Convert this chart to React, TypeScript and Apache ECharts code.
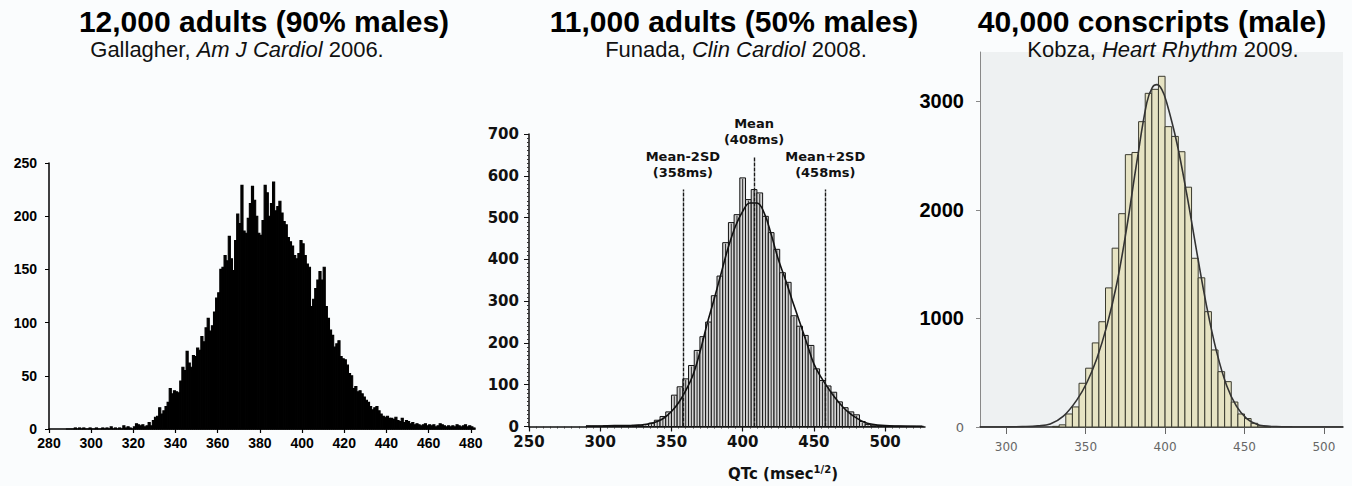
import React, { useEffect, useRef } from 'react';
import * as echarts from 'echarts';

// ---------- Panel 1: Gallagher (1 ms bins) ----------
const P1_START = 288;
const P1_COUNTS = [
  0, 0, 0, 0, 1, 0, 1, 0, 1, 0, 0, 1,
  0, 0, 1, 0, 0, 1, 0, 1, 0, 2,
  0, 1, 0, 1, 0, 3, 1, 2, 1, 0,
  2, 5, 4, 3, 4, 2, 3, 6, 3, 8,
  11, 12, 20, 14, 17, 21, 25, 38, 33, 36,
  35, 34, 45, 58, 55, 73, 62, 58, 69, 68,
  76, 74, 87, 82, 95, 104, 92, 97, 110, 123,
  128, 150, 152, 163, 158, 181, 160, 149, 177, 202,
  193, 229, 186, 184, 198, 212, 228, 215, 200, 184,
  182, 196, 229, 222, 200, 212, 232, 205, 209, 214,
  203, 195, 192, 180, 176, 172, 163, 160, 165, 177,
  174, 163, 155, 152, 115, 122, 132, 140, 148, 140,
  152, 115, 104, 93, 88, 77, 80, 83, 68, 66,
  65, 60, 52, 50, 38, 40, 35, 36, 33, 30,
  27, 25, 21, 18, 20, 21, 17, 14, 12, 11,
  12, 10, 10, 9, 11, 8, 7, 10, 6, 8,
  7, 5, 6, 4, 5, 4, 3, 4, 5, 3,
  4, 3, 4, 2, 3, 5, 4, 3, 2, 3,
  2, 3, 2, 4, 3, 2, 3, 4, 2, 3,
  2, 1,
];
const P1_XTICKS = [280, 300, 320, 340, 360, 380, 400, 420, 440, 460, 480];
const P1_YTICKS = [0, 50, 100, 150, 200, 250];

// ---------- Panel 2: Funada (4 ms bins) ----------
const P2_BIN_W = 4;
const P2_BIN_STARTS = [
  290, 294, 298, 302, 306, 310, 314, 318, 322, 326, 330, 334, 338, 342, 346,
  350, 354, 358, 362, 366, 370, 374, 378, 382, 386, 390, 394, 398, 402, 406,
  410, 414, 418, 422, 426, 430, 434, 438, 442, 446, 450, 454, 458, 462, 466,
  470, 474, 478, 482, 486, 490, 494, 498, 502, 506, 510, 514, 518, 522,
];
const P2_COUNTS = [
  1, 1, 1, 2, 1, 2, 2, 2, 3, 3, 5, 8, 15, 24, 35,
  75, 95, 114, 146, 182, 215, 250, 313, 360, 440, 488, 507, 595, 543, 567,
  559, 503, 464, 424, 368, 345, 265, 240, 218, 194, 138, 110, 97, 82, 59,
  45, 35, 28, 12, 5, 3, 2, 2, 1, 1, 1, 1, 1, 1,
];
const P2_CURVE_X = [290, 300, 310, 320, 325, 330, 335, 340, 345, 350, 355, 360, 365, 370, 375, 380, 385, 390, 395, 400, 405, 410, 415, 420, 425, 430, 435, 440, 445, 450, 455, 460, 465, 470, 475, 480, 485, 490, 500, 510, 527];
const P2_CURVE_Y = [1, 1, 2, 2, 3, 4, 7, 12, 21, 36, 57, 86, 122, 178, 245, 305, 368, 430, 480, 515, 535, 535, 512, 460, 400, 352, 300, 250, 200, 150, 118, 92, 68, 48, 32, 20, 11, 6, 2, 1, 0];
const P2_MARK_X = [358, 408, 458];
const P2_MARK_TOP = [567, 646, 567];
const P2_MARK_LABELS = ['Mean-2SD\n(358ms)', 'Mean\n(408ms)', 'Mean+2SD\n(458ms)'];
const P2_XTICKS = [250, 300, 350, 400, 450, 500];
const P2_YTICKS = [0, 100, 200, 300, 400, 500, 600, 700];

// ---------- Panel 3: Kobza ----------
const P3_BIN_W = 4.1667;
const P3_BIN_STARTS = [
  329.17, 333.33, 337.5, 341.67, 345.83, 350, 354.17, 358.33, 362.5, 366.67, 370.83,
  375, 379.17, 383.33, 387.5, 391.67, 395.83, 400, 404.17, 408.33, 412.5, 416.67,
  420.83, 425, 429.17, 433.33, 437.5, 441.67, 445.83, 450, 454.17, 458.33, 462.5,
];
const P3_COUNTS = [
  6, 20, 120, 185, 403, 542, 775, 970, 1282, 1648, 1966,
  2510, 2530, 2814, 3075, 3112, 3232, 2768, 2678, 2537, 2210, 1555,
  1375, 1063, 710, 510, 418, 230, 120, 78, 34, 10, 3,
];
const P3_CURVE_X = [283.5, 300, 310, 320, 327.7, 336, 344.5, 350.8, 357, 363.3, 369.6, 375.9, 382.2, 388.5, 392, 394.8, 398, 401, 407.4, 413.6, 420, 426.2, 432.5, 438.8, 445, 451.4, 457.7, 462, 470, 480, 512];
const P3_CURVE_Y = [0, 1, 3, 10, 28, 100, 250, 410, 630, 930, 1320, 1840, 2440, 2990, 3130, 3155, 3110, 2990, 2620, 2150, 1610, 1110, 690, 380, 190, 78, 25, 10, 3, 1, 0];
const P3_XTICKS = [300, 350, 400, 450, 500];
const P3_YTICKS = [0, 1000, 2000, 3000];

const ARIAL = 'Liberation Sans, Arial, Helvetica, sans-serif';
const DEJA = 'DejaVu Sans, sans-serif';

function rectRender(style: any, hatch?: any) {
  return (params: any, api: any) => {
    const x0 = api.value(0);
    const x1 = api.value(1);
    const v = api.value(2);
    const p0 = api.coord([x0, v]);
    const p1 = api.coord([x1, 0]);
    const rect = {
      type: 'rect',
      shape: { x: p0[0], y: p0[1], width: p1[0] - p0[0], height: p1[1] - p0[1] },
      style,
    };
    if (!hatch) return rect;
    const mx = (p0[0] + p1[0]) / 2;
    return {
      type: 'group',
      children: [
        rect,
        { type: 'line', shape: { x1: mx, y1: p0[1] + 1, x2: mx, y2: p1[1] }, style: hatch },
      ],
    };
  };
}

export default function App() {
  const ref = useRef<HTMLDivElement>(null);
  useEffect(() => {
    if (!ref.current) return;
    const chart = echarts.init(ref.current, undefined, { renderer: 'svg' });

    const p1Data = P1_COUNTS.map((c, i) => [P1_START + i, P1_START + i + 1, c]);
    const p2Data = P2_BIN_STARTS.map((s, i) => [s, s + P2_BIN_W, P2_COUNTS[i]]);
    const p3Data = P3_BIN_STARTS.map((s, i) => [s, s + P3_BIN_W, P3_COUNTS[i]]);
    const p2Curve = P2_CURVE_X.map((x, i) => [x, P2_CURVE_Y[i]]);
    const p3Curve = P3_CURVE_X.map((x, i) => [x, P3_CURVE_Y[i]]);

    const p1Label = { color: '#000', fontWeight: 'bold', fontSize: 14, fontFamily: ARIAL };
    const p2Label = { color: '#111', fontWeight: 'bold', fontSize: 15, fontFamily: DEJA };

    const option: any = {
      animation: false,
      backgroundColor: 'transparent',
      grid: [
        { left: 49, top: 163, width: 426, height: 266 },
        { left: 529, top: 134, width: 396, height: 294 },
        { left: 980, top: 52, width: 363, height: 375, show: true, backgroundColor: '#eef1f2', borderWidth: 0 },
      ],
      xAxis: [
        {
          gridIndex: 0, type: 'value', min: 280, max: 482, interval: 20,
          axisLine: { onZero: false, lineStyle: { color: '#000', width: 1.5 } },
          axisTick: { length: 4, lineStyle: { color: '#000', width: 1.2 }, customValues: P1_XTICKS },
          axisLabel: { ...p1Label, margin: 7, customValues: P1_XTICKS },
          splitLine: { show: false },
        },
        {
          gridIndex: 1, type: 'value', min: 250, max: 528, interval: 50,
          axisLine: { onZero: false, lineStyle: { color: '#111', width: 1.5 } },
          axisTick: { length: 5, lineStyle: { color: '#111', width: 1.2 }, customValues: P2_XTICKS },
          minorTick: { show: true, splitNumber: 10, length: 2, lineStyle: { color: '#333' } },
          axisLabel: { ...p2Label, margin: 8, customValues: P2_XTICKS },
          splitLine: { show: false },
          name: '{a|QTc (msec}{s|1/2}{a|)}',
          nameLocation: 'middle',
          nameGap: 38,
          nameTextStyle: {
            padding: [0, 0, 0, 112],
            rich: {
              a: { fontFamily: DEJA, fontWeight: 'bold', fontSize: 15, color: '#111' },
              s: { fontFamily: DEJA, fontWeight: 'bold', fontSize: 10, color: '#111', padding: [0, 0, 8, 0] },
            },
          },
        },
        {
          gridIndex: 2, type: 'value', min: 283.5, max: 512,
          axisLine: { onZero: false, lineStyle: { color: '#222', width: 1.5 } },
          axisTick: { length: 7, lineStyle: { color: '#666' }, customValues: P3_XTICKS },
          axisLabel: { color: '#666', fontSize: 12, fontFamily: DEJA, margin: 14, customValues: P3_XTICKS,
            formatter: (v: number) => (v % 50 === 0 ? String(v) : '') },
          splitLine: { show: false },
        },
      ],
      yAxis: [
        {
          gridIndex: 0, type: 'value', min: 0, max: 250, interval: 50,
          axisLine: { show: true, lineStyle: { color: '#000', width: 1.5 } },
          axisTick: { show: true, length: 4, lineStyle: { color: '#000' }, customValues: P1_YTICKS },
          axisLabel: { ...p1Label, margin: 12, customValues: P1_YTICKS },
          splitLine: { show: false },
        },
        {
          gridIndex: 1, type: 'value', min: 0, max: 700, interval: 100,
          axisLine: { show: true, lineStyle: { color: '#111', width: 1.5 } },
          axisTick: { show: true, length: 5, lineStyle: { color: '#111' }, customValues: P2_YTICKS },
          minorTick: { show: true, splitNumber: 10, length: 2, lineStyle: { color: '#333' } },
          axisLabel: { ...p2Label, margin: 10, customValues: P2_YTICKS },
          splitLine: { show: false },
        },
        {
          gridIndex: 2, type: 'value', min: 0, max: 3456, interval: 1000,
          axisLine: { show: true, lineStyle: { color: '#888', width: 1 } },
          axisTick: { show: true, length: 4, lineStyle: { color: '#888' }, customValues: P3_YTICKS },
          axisLabel: {
            margin: 16,
            customValues: P3_YTICKS,
            formatter: (v: number) => (v === 0 ? '{s|0}' : v % 1000 === 0 ? '{b|' + v + '}' : ''),
            rich: {
              b: { fontFamily: ARIAL, fontWeight: 'bold', fontSize: 20, color: '#000' },
              s: { fontFamily: DEJA, fontSize: 13, color: '#666' },
            },
          },
          splitLine: { show: false },
        },
      ],
      series: [
        {
          type: 'custom', xAxisIndex: 0, yAxisIndex: 0,
          renderItem: rectRender({ fill: '#000', stroke: '#000', lineWidth: 1.1 }),
          encode: { x: [0, 1], y: 2 },
          data: p1Data,
        },
        {
          type: 'custom', xAxisIndex: 1, yAxisIndex: 1,
          renderItem: rectRender({ fill: '#d4d4d4', stroke: '#111', lineWidth: 1 }, { stroke: '#2a2a2a', lineWidth: 1 }),
          encode: { x: [0, 1], y: 2 },
          data: p2Data,
        },
        {
          type: 'line', xAxisIndex: 1, yAxisIndex: 1,
          data: p2Curve, smooth: 0.4, showSymbol: false, symbol: 'none',
          lineStyle: { color: '#111', width: 1.6 },
          z: 3,
          markLine: {
            silent: true,
            symbol: ['none', 'none'],
            animation: false,
            lineStyle: { color: '#1a1a1a', width: 1.4, type: [4, 1] },
            label: {
              show: true, position: 'end', distance: 9, formatter: '{b}',
              fontFamily: DEJA, fontWeight: 'bold', fontSize: 13, lineHeight: 16, color: '#111',
            },
            data: P2_MARK_X.map((x, i) => [
              { coord: [x, 0], name: P2_MARK_LABELS[i] },
              { coord: [x, P2_MARK_TOP[i]] },
            ]),
          },
        },
        {
          type: 'custom', xAxisIndex: 2, yAxisIndex: 2,
          renderItem: rectRender({ fill: '#e6e3c3', stroke: '#3b3b30', lineWidth: 1 }),
          encode: { x: [0, 1], y: 2 },
          data: p3Data,
        },
        {
          type: 'line', xAxisIndex: 2, yAxisIndex: 2,
          data: p3Curve, smooth: 0.4, showSymbol: false, symbol: 'none',
          lineStyle: { color: '#333', width: 1.6 },
          z: 3,
        },
      ],
      graphic: [
        { type: 'text', x: 264, y: 21, z: 10, style: { text: '12,000 adults (90% males)', font: 'bold 30px ' + ARIAL, fill: '#000', align: 'center', verticalAlign: 'middle' } },
        { type: 'text', x: 734, y: 21, z: 10, style: { text: '11,000 adults (50% males)', font: 'bold 30px ' + ARIAL, fill: '#000', align: 'center', verticalAlign: 'middle' } },
        { type: 'text', x: 1152, y: 21, z: 10, style: { text: '40,000 conscripts (male)', font: 'bold 30px ' + ARIAL, fill: '#000', align: 'center', verticalAlign: 'middle' } },
        {
          type: 'text', x: 237, y: 49, z: 10,
          style: {
            text: '{n|Gallagher, }{i|Am J Cardiol}{n| 2006.}', align: 'center', verticalAlign: 'middle',
            rich: { n: { fontFamily: ARIAL, fontSize: 22, fill: '#111' }, i: { fontFamily: ARIAL, fontSize: 22, fontStyle: 'italic', fill: '#111' } },
          },
        },
        {
          type: 'text', x: 736, y: 49, z: 10,
          style: {
            text: '{n|Funada, }{i|Clin Cardiol}{n| 2008.}', align: 'center', verticalAlign: 'middle',
            rich: { n: { fontFamily: ARIAL, fontSize: 22, fill: '#111' }, i: { fontFamily: ARIAL, fontSize: 22, fontStyle: 'italic', fill: '#111' } },
          },
        },
        {
          type: 'text', x: 1163, y: 49, z: 10,
          style: {
            text: '{n|Kobza, }{i|Heart Rhythm}{n| 2009.}', align: 'center', verticalAlign: 'middle',
            rich: { n: { fontFamily: ARIAL, fontSize: 22, fill: '#111' }, i: { fontFamily: ARIAL, fontSize: 22, fontStyle: 'italic', fill: '#111' } },
          },
        },
      ],
    };
    chart.setOption(option);
    return () => chart.dispose();
  }, []);

  return (
    <div
      ref={ref}
      style={{ position: 'fixed', left: 0, top: 0, width: 1352, height: 486, background: '#fafcfd' }}
    />
  );
}
